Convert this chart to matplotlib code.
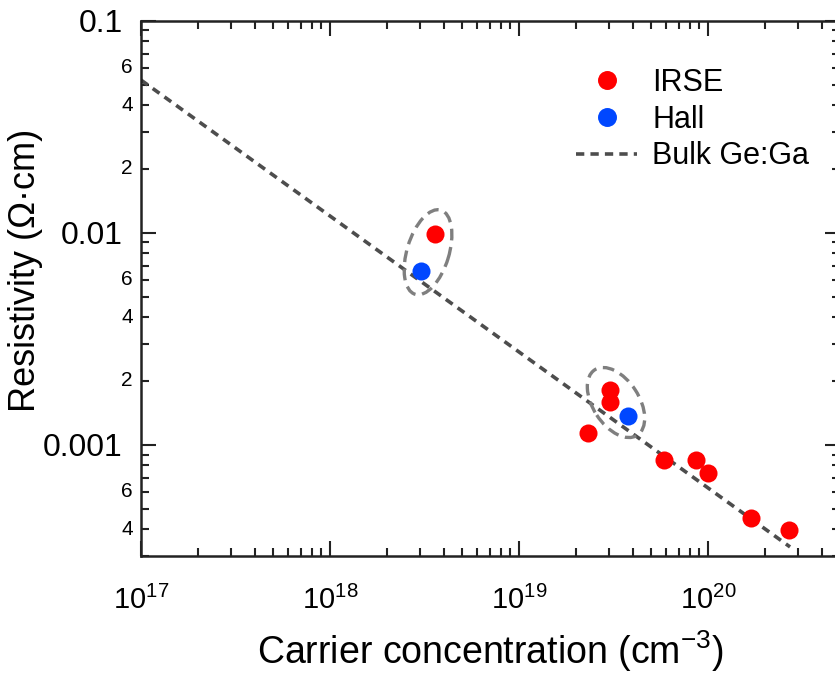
import numpy as np
import matplotlib
matplotlib.use("Agg")
import matplotlib.pyplot as plt
from matplotlib.patches import Ellipse
from matplotlib.transforms import IdentityTransform
from matplotlib.ticker import LogLocator, FixedLocator, FixedFormatter, NullFormatter

plt.rcParams['font.family'] = ['Liberation Sans', 'DejaVu Sans']
plt.rcParams['mathtext.fontset'] = 'custom'
plt.rcParams['mathtext.rm'] = 'Liberation Sans'
plt.rcParams['mathtext.it'] = 'Liberation Sans'

# Data
irse_conc = [3.6e18, 3.03e19, 3.05e19, 2.33e19, 5.87e19, 8.65e19, 9.96e19, 1.70e20, 2.69e20]
irse_res = [0.0099, 0.00181, 0.0016, 0.00114, 0.00085, 0.00085, 0.00074, 0.00045, 0.000396]
hall_conc = [3.03e18, 3.76e19]
hall_res = [0.00662, 0.00137]
bulk_conc = [1e17, 2.72e20]
bulk_res = [0.0525, 0.00033]

xticks_major = [1e17, 1e18, 1e19, 1e20]
xtick_labels = [r'$10^{17}$', r'$10^{18}$', r'$10^{19}$', r'$10^{20}$']
yticks_major = [0.1, 0.01, 0.001]
ytick_labels = ['0.1', '0.01', '0.001']
yticks_minor_labeled = [0.06, 0.04, 0.02, 0.006, 0.004, 0.002, 0.0006, 0.0004]
yminor_labels = ['6', '4', '2', '6', '4', '2', '6', '4']

W, H = 835, 674
fig = plt.figure(figsize=(W / 100, H / 100), dpi=100)
ax = fig.add_axes([141 / W, 1 - 555.7 / H, (840 - 141) / W, (555.7 - 20.7) / H])
ax.set_xscale('log')
ax.set_yscale('log')
ax.set_xlim(1e17, 5e20)
ax.set_ylim(3e-4, 0.1)

red = '#ff0000'
blue = '#0047ff'

ax.plot(bulk_conc, bulk_res, linestyle=(0, (2.3, 1.7)), color='#4d4d4d', lw=2.6,
        label='Bulk Ge:Ga', zorder=2)
ax.plot(irse_conc, irse_res, 'o', color=red, ms=13, mec='none', label='IRSE', zorder=3)
ax.plot(hall_conc, hall_res, 'o', color=blue, ms=13, mec='none', label='Hall', zorder=3)

# ticks
ax.xaxis.set_major_locator(FixedLocator(xticks_major))
ax.xaxis.set_major_formatter(FixedFormatter(xtick_labels))
ax.xaxis.set_minor_locator(LogLocator(base=10, subs=np.arange(2, 10)))
ax.xaxis.set_minor_formatter(NullFormatter())
ax.yaxis.set_major_locator(FixedLocator(yticks_major))
ax.yaxis.set_major_formatter(FixedFormatter(ytick_labels))
ax.yaxis.set_minor_locator(LogLocator(base=10, subs=np.arange(2, 10)))
ax.yaxis.set_minor_formatter(NullFormatter())

ax.tick_params(which='both', direction='in', top=True, right=True, width=1.5, colors='#222222')
ax.tick_params(which='major', length=11)
ax.tick_params(which='minor', length=5.5)
ax.tick_params(axis='x', which='major', labelsize=21, pad=22, labelcolor='black')
ax.tick_params(axis='y', which='major', labelsize=23, pad=13, labelcolor='black')
for s in ax.spines.values():
    s.set_linewidth(1.8)
    s.set_color('#222222')

# minor labels on y
for v, t in zip(yticks_minor_labeled, yminor_labels):
    ax.annotate(t, xy=(0, v), xycoords=('axes fraction', 'data'), xytext=(-6, 0),
                textcoords='offset points', ha='right', va='center', fontsize=15)

fig.text(490 / W, 1 - 664 / H, r'Carrier concentration (cm$^{-3}$)', fontsize=27,
         ha='center', va='baseline')
fig.text(26 / W, 1 - 270 / H, 'Resistivity (Ω·cm)', rotation=90, fontsize=26,
         ha='center', va='center')

leg = ax.legend(handles=[ax.lines[1], ax.lines[2], ax.lines[0]], frameon=False,
                fontsize=22, loc='upper left', bbox_to_anchor=(576 / W, 1 - 68 / H),
                bbox_transform=fig.transFigure, handlelength=2.0, handletextpad=0.5,
                labelspacing=0.22, borderpad=0, borderaxespad=0, markerscale=1.05)

# dashed ellipses around paired measurements (pixel-space geometry around data points)
fig.canvas.draw()
def ellipse_around(xs, ys, w, h, ang):
    pts = ax.transData.transform(np.column_stack([xs, ys]))
    c = pts.mean(axis=0)
    e = Ellipse(c, w, h, angle=ang, transform=IdentityTransform(), fill=False,
                ec='#7f7f7f', lw=2.4, linestyle=(0, (3.5, 2.0)), zorder=4, clip_on=False)
    fig.add_artist(e)

ellipse_around([irse_conc[0], hall_conc[0]], [irse_res[0], hall_res[0]], 88, 42, 73)
ellipse_around([irse_conc[1], irse_conc[2], hall_conc[1]], [irse_res[1], irse_res[2], hall_res[1]], 78, 46, -57)

fig.savefig('out.png', dpi=100)
